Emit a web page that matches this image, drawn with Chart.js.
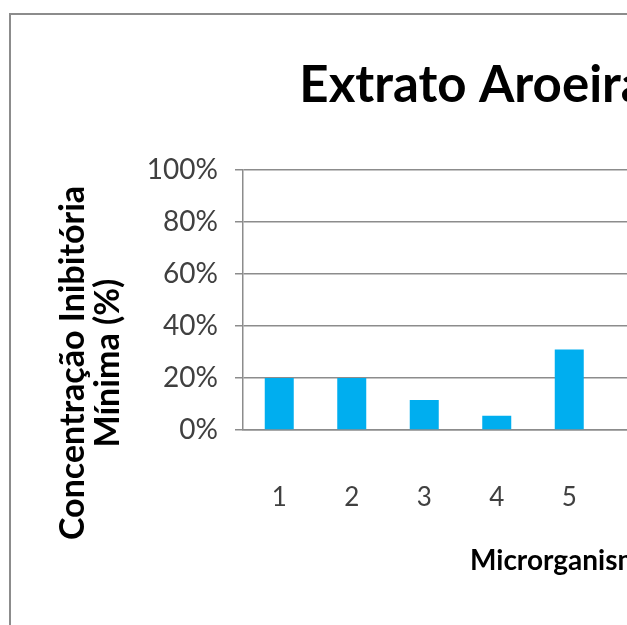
<!DOCTYPE html>
<html>
<head>
<meta charset="utf-8">
<script src="https://cdn.jsdelivr.net/npm/chart.js@4/dist/chart.umd.min.js"></script>
<style>
  html, body { margin: 0; padding: 0; width: 627px; height: 625px; overflow: hidden; background: #fff; }
  #frame { position: absolute; left: 9px; top: 13px; border-left: 2px solid #8c8c8c; border-top: 2px solid #8c8c8c; width: 940px; height: 696px; }
  canvas { display: block; }
</style>
</head>
<body>
<div id="frame"><canvas id="c" width="940" height="696"></canvas></div>
<script>
// ---- data ----
const chartTitle = 'Extrato Aroeira';
const categories = ['1', '2', '3', '4', '5'];
const values = [20, 20, 11.5, 5.5, 31];
const yTicks = [0, 20, 40, 60, 80, 100];
const yTitleLines = ['Concentração Inibitória', 'Mínima (%)'];
const xTitle = 'Microrganismos';

const FONT = "Lato, 'Open Sans', 'DejaVu Sans', sans-serif";

// layout (canvas px): plot starts at x=232, one category slot = 72.5px,
// x-axis title (centred on plot) begins at x=459, chart title centred at x=462
const CANVAS_W = 940;
const PLOT_LEFT = 232;
const SLOT = 72.5;
const X_TITLE_START = 459;
const TITLE_CX = 462;
const mctx = document.createElement('canvas').getContext('2d');
mctx.font = 'bold 28px ' + FONT;
const xTitleW = mctx.measureText(xTitle).width;
const plotRight = 2 * (X_TITLE_START + xTitleW / 2) - PLOT_LEFT;
const xMax = 0.5 + (plotRight - PLOT_LEFT) / SLOT;
const padRight = CANVAS_W - plotRight;
const padLeft = Math.max(0, 2 * TITLE_CX - plotRight);

const yTitlePlugin = {
  id: 'yTitle',
  afterDraw(chart) {
    const ctx = chart.ctx;
    ctx.save();
    ctx.font = 'bold 34px ' + FONT;
    ctx.fillStyle = '#000';
    ctx.textAlign = 'center';
    ctx.textBaseline = 'alphabetic';
    const cy = chart.height / 2;
    const xs = [73, 108];
    yTitleLines.forEach((t, i) => {
      ctx.save();
      ctx.translate(xs[i], cy);
      ctx.rotate(-Math.PI / 2);
      ctx.fillText(t, 0, 0);
      ctx.restore();
    });
    ctx.restore();
  }
};

new Chart(document.getElementById('c'), {
  type: 'bar',
  data: {
    datasets: [{
      data: categories.map((c, i) => ({ x: i + 1, y: values[i] })),
      backgroundColor: '#00AEEF',
      barPercentage: 0.4,
      categoryPercentage: 1
    }]
  },
  options: {
    responsive: false,
    animation: false,
    layout: { padding: { left: padLeft, right: padRight, top: 0, bottom: 0 } },
    plugins: {
      legend: { display: false },
      tooltip: { enabled: false },
      title: {
        display: true,
        text: chartTitle,
        color: '#000',
        font: { family: FONT, size: 51, weight: 'bold' },
        padding: { top: 40, bottom: 54 }
      }
    },
    scales: {
      x: {
        type: 'linear',
        offset: false,
        min: 0.5,
        max: xMax,
        afterFit: s => { s.height = 281; },
        afterBuildTicks: s => { s.ticks = categories.map((c, i) => ({ value: i + 1 })); },
        grid: { display: false },
        border: { display: true, color: '#8c8c8c', width: 1.5 },
        ticks: {
          autoSkip: false,
          maxRotation: 0,
          padding: 44,
          color: '#404040',
          font: { family: FONT, size: 26 },
          callback: v => categories[v - 1]
        },
        title: {
          display: true,
          text: xTitle,
          color: '#000',
          font: { family: FONT, size: 28, weight: 'bold' },
          padding: { top: 0, bottom: 133 }
        }
      },
      y: {
        min: 0,
        max: 100,
        afterFit: s => { s.width = PLOT_LEFT - padLeft; },
        afterBuildTicks: s => { s.ticks = yTicks.map(v => ({ value: v })); },
        grid: { color: '#8c8c8c', lineWidth: 1.5, tickLength: 8, drawTicks: true },
        border: { display: true, color: '#8c8c8c', width: 1.5 },
        ticks: {
          padding: 17,
          color: '#404040',
          font: { family: FONT, size: 28 },
          callback: v => v + '%'
        }
      }
    }
  },
  plugins: [yTitlePlugin]
});
</script>
</body>
</html>
